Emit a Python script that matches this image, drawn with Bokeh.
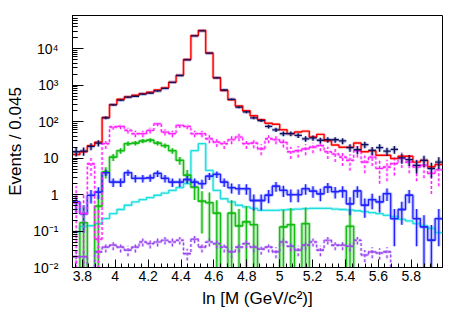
import numpy as np
from bokeh.plotting import figure
from bokeh.models import Range1d, FixedTicker, CustomJSTickFormatter
from bokeh.embed import file_html
from bokeh.resources import INLINE

# ---------------- data ----------------
x_low = 3.74          # lower edge of first bin (ln M)
bin_width = 0.045
n_bins = 50

data_counts = [15, 15.6, 21, 26, 128, 290, 390, 470, 500, 570,
               610, 700, 820, 1200, 1850, 5000, 22500, 31000, 7600, 1600,
               740, 410, 250, 185, 128, 108, 74, 60, 47, 47,
               42, 34, 36, 31, 32, 32, 29.7, 19.5, 17, 23.5,
               16.3, 19.5, 15.5, 17.4, 10.2, 9.1, 6.3, 8.7, 5.2, 7.8]

total_mc = [12.6, 15, 22, 27.5, 130, 295, 414, 480, 530, 590,
            640, 740, 850, 1200, 1870, 5100, 23000, 31700, 7700, 1600,
            720, 400, 270, 200, 145, 113, 91, 85, 60, 47,
            52, 55, 38, 45, 30, 23, 20, 20, 26, 15,
            16, 12, 12, 9.8, 11.3, 11.3, 7.8, 8.7, 5.8, 6.7]

magenta_bkg = [0.6, 0.3, 7, 0.06, 25, 72, 74, 58, 47, 47,
               58, 88, 52, 47, 80, 74, 47, 47, 34, 27.5,
               25, 32, 38, 25, 26, 18, 34, 32, 27, 15,
               16, 18, 20, 22, 15, 13, 10.7, 8.7, 16, 7.8,
               10.7, 5.2, 5.7, 7.1, 9.8, 7.8, 5.7, 6.4, 3.8, 4.8]

green_bkg = [0, 0.17, 0, 0.48, 4.2, 10.7, 16, 25, 26, 29.5,
             31, 26, 22, 16, 8.7, 3.4, 1.6, 0.66, 0.6, 0.31,
             0, 0.31, 0.14, 0.18, 0.15, 0, 0, 0, 0.13, 0.15,
             0, 0.16, 0, 0, 0, 0, 0, 0.135, 0, 0,
             0, 0, 0, 0, 0, 0, 0, 0, 0, 0]

cyan_bkg = [0.094, 0.135, 0.14, 0.16, 0.22, 0.30, 0.39, 0.51, 0.63, 0.73,
            0.83, 0.96, 1.1, 1.3, 1.56, 2.0, 16, 25, 4.6, 1.3,
            0.77, 0.63, 0.51, 0.46, 0.42, 0.37, 0.37, 0.37, 0.38, 0.39,
            0.40, 0.41, 0.42, 0.42, 0.42, 0.40, 0.39, 0.38, 0.36, 0.34,
            0.32, 0.30, 0.27, 0.25, 0.21, 0.19, 0.16, 0.14, 0.12, 0.09]

blue_bkg = [0.63, 0.30, 0.95, 1.17, 4.0, 2.2, 2.2, 4.0, 2.8, 2.8,
            2.9, 3.8, 2.8, 2.2, 2.2, 2.6, 2.2, 2.0, 3.2, 3.6,
            2.2, 1.55, 1.45, 1.45, 0.69, 0.69, 0.96, 1.7, 1.3, 1.0,
            1.0, 1.45, 1.25, 1.05, 1.6, 1.2, 1.26, 0.56, 1.26, 0.51,
            0.73, 0.63, 1.07, 0.22, 0.39, 0.96, 0.22, 0.13, 0.056, 0.22]

purple_bkg = [0.02, 0.02, 0, 0.027, 0.036, 0.041, 0.036, 0.030, 0.036, 0.05,
              0.045, 0.05, 0.056, 0.05, 0.056, 0.024, 0.06, 0.036, 0.05, 0.045,
              0.036, 0.027, 0.036, 0.045, 0.036, 0.032, 0.036, 0.027, 0.05, 0.038,
              0.03, 0.041, 0.05, 0.03, 0.056, 0.041, 0.041, 0.038, 0.056, 0.022,
              0.027, 0.025, 0.027, 0, 0, 0, 0, 0, 0, 0]

x_major_ticks = [3.8, 4.0, 4.2, 4.4, 4.6, 4.8, 5.0, 5.2, 5.4, 5.6, 5.8]
x_tick_labels = ["3.8", "4", "4.2", "4.4", "4.6", "4.8", "5", "5.2", "5.4", "5.6", "5.8"]
y_major_ticks = [0.01, 0.1, 1, 10, 100, 1000, 10000]
y_tick_labels = ["10\u207b\u00b2", "10\u207b\u00b9", "1", "10", "10\u00b2", "10\u00b3", "10\u2074"]

# ---------------- geometry helpers ----------------
edges = x_low + bin_width * np.arange(n_bins + 1)
centers = 0.5 * (edges[:-1] + edges[1:])
FLOOR = 1e-6
x_hi = edges[-1]

p = figure(width=455, height=310,
           x_range=Range1d(x_low, x_hi), y_range=Range1d(0.01, 8.2e4),
           y_axis_type="log", output_backend="svg", toolbar_location=None,
           min_border_left=72, min_border_right=13, min_border_top=15,
           min_border_bottom=43)
p.background_fill_color = "white"
p.border_fill_color = "white"
p.outline_line_color = "black"
p.outline_line_width = 1
p.xgrid.visible = False
p.ygrid.visible = False


def draw_hist(vals, color, width=1.2, dash="solid", alpha=1.0):
    v = np.asarray(vals, float)
    y = np.where(v > 0, v, FLOOR)
    p.step(edges, np.append(y, y[-1]), mode="after", line_color=color,
           line_width=width, line_dash=dash, line_alpha=alpha)


def draw_err(vals, errs, color, width=1.2, dash="solid", alpha=1.0, horiz=True):
    v = np.asarray(vals, float)
    e = np.asarray(errs, float)
    m = v > 0
    lo = np.maximum(v - e, FLOOR)
    p.segment(centers[m], lo[m], centers[m], (v + e)[m], line_color=color,
              line_width=width, line_dash=dash, line_alpha=alpha)
    if horiz:
        p.segment(edges[:-1][m], v[m], edges[1:][m], v[m], line_color=color,
                  line_width=width, line_dash=dash, line_alpha=alpha)


data_err = np.sqrt(np.asarray(data_counts, float))
magenta_err = np.sqrt(np.asarray(magenta_bkg, float) * 2.0)
green_err = np.sqrt(np.asarray(green_bkg, float) * 0.5)
blue_err = np.sqrt(np.asarray(blue_bkg, float) * 0.15)
purple_err = np.sqrt(np.asarray(purple_bkg, float) * 0.003)

# translucent shadow copies
draw_hist(cyan_bkg, "#00e0e0", width=3, alpha=0.3)
draw_hist(green_bkg, "#22bb22", width=3.5, alpha=0.3)
draw_err(green_bkg, green_err, "#22bb22", width=3.5, alpha=0.3, horiz=False)
draw_hist(blue_bkg, "#3344ff", width=3.5, alpha=0.3)
draw_err(blue_bkg, blue_err, "#3344ff", width=3.5, alpha=0.3, horiz=False)
draw_hist(purple_bkg, "#9955ee", width=3, dash="3 2", alpha=0.25)
draw_err(purple_bkg, purple_err, "#9955ee", width=3, dash="3 2", alpha=0.25)
draw_hist(magenta_bkg, "#ff33ff", width=3, dash="3 2", alpha=0.25)
draw_err(magenta_bkg, magenta_err, "#ff33ff", width=3, dash="3 2", alpha=0.25)
draw_hist(total_mc, "#ff3333", width=3, alpha=0.3)
draw_err(data_counts, data_err, "#3344aa", width=3.5, alpha=0.3)

# main series
draw_hist(cyan_bkg, "#22dddd", width=1.3)
draw_hist(green_bkg, "#11bb11", width=1.3)
draw_err(green_bkg, green_err, "#11bb11", width=1.3)
draw_hist(blue_bkg, "#2222ff", width=1.3)
draw_err(blue_bkg, blue_err, "#2222ff", width=1.3)
draw_hist(purple_bkg, "#9944ee", width=1.2, dash="3 2")
draw_err(purple_bkg, purple_err, "#9944ee", width=1.2, dash="3 2")
draw_hist(magenta_bkg, "#ff22ff", width=1.2, dash="3 2")
draw_err(magenta_bkg, magenta_err, "#ff22ff", width=1.2, dash="3 2")
draw_hist(total_mc, "#ff0000", width=1.4)
draw_err(data_counts, data_err, "#10105a", width=1.3)

# ---------------- axes ----------------
x_minor = [round(t, 3) for t in np.arange(3.76, 6.0, 0.04)]
p.xaxis.ticker = FixedTicker(ticks=x_major_ticks, minor_ticks=x_minor)
p.xaxis.formatter = CustomJSTickFormatter(
    args=dict(tvals=x_major_ticks, labels=x_tick_labels),
    code="""
    for (let i = 0; i < tvals.length; i++) {
        if (Math.abs(tick - tvals[i]) < 1e-6) return labels[i];
    }
    return '';
    """)
y_minor = []
for t in y_major_ticks:
    for m in range(2, 10):
        y_minor.append(t * m)
y_minor += [1e4 * m for m in range(2, 10)]
p.yaxis.ticker = FixedTicker(ticks=y_major_ticks, minor_ticks=y_minor)
p.yaxis.formatter = CustomJSTickFormatter(
    args=dict(tvals=y_major_ticks, labels=y_tick_labels),
    code="""
    for (let i = 0; i < tvals.length; i++) {
        if (Math.abs(Math.log10(tick) - Math.log10(tvals[i])) < 1e-6) return labels[i];
    }
    return '';
    """)

for ax in (p.xaxis[0], p.yaxis[0]):
    ax.axis_line_color = "black"
    ax.major_tick_line_color = "black"
    ax.minor_tick_line_color = "black"
    ax.major_tick_out = 0
    ax.minor_tick_out = 0
    ax.major_label_text_font = "Liberation Sans"
    ax.major_label_text_font_size = "14px"
    ax.major_label_text_color = "black"
    ax.axis_label_text_font = "Liberation Sans"
    ax.axis_label_text_font_size = "17px"
    ax.axis_label_text_font_style = "normal"
    ax.axis_label_text_color = "black"

p.xaxis.major_tick_in = 8
p.xaxis.minor_tick_in = 4
p.yaxis.major_tick_in = 11
p.yaxis.minor_tick_in = 5
p.xaxis.major_label_standoff = 3
p.yaxis.major_label_standoff = 14
p.xaxis.axis_label = "ln [M (GeV/c\u00b2)]"
p.yaxis.axis_label = "Events / 0.045"
p.xaxis.axis_label_standoff = 5
p.yaxis.axis_label_standoff = 5

open("out.html", "w").write(file_html(p, INLINE))
